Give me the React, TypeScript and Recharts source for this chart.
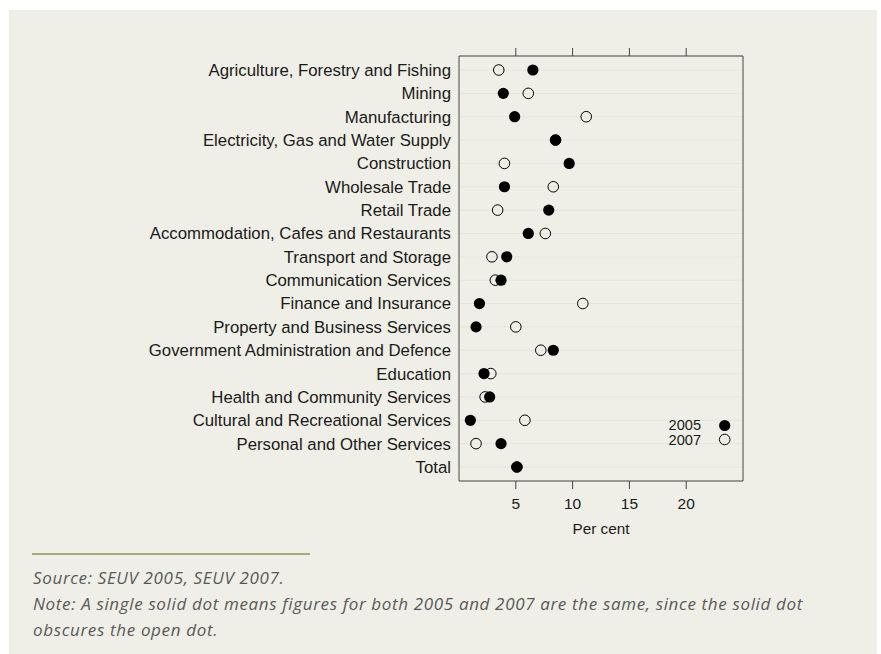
import React from 'react';
import { ScatterChart, Scatter, XAxis, YAxis, CartesianGrid, ReferenceLine } from 'recharts';

// industries, top to bottom
const industries = [
  'Agriculture, Forestry and Fishing',
  'Mining',
  'Manufacturing',
  'Electricity, Gas and Water Supply',
  'Construction',
  'Wholesale Trade',
  'Retail Trade',
  'Accommodation, Cafes and Restaurants',
  'Transport and Storage',
  'Communication Services',
  'Finance and Insurance',
  'Property and Business Services',
  'Government Administration and Defence',
  'Education',
  'Health and Community Services',
  'Cultural and Recreational Services',
  'Personal and Other Services',
  'Total',
];

// per cent
const values2005 = [6.5, 3.9, 4.9, 8.5, 9.7, 4.0, 7.9, 6.1, 4.2, 3.7, 1.8, 1.5, 8.3, 2.2, 2.7, 1.0, 3.7, 5.1];
const values2007 = [3.5, 6.1, 11.2, 8.5, 4.0, 8.3, 3.4, 7.6, 2.9, 3.2, 10.9, 5.0, 7.2, 2.8, 2.3, 5.8, 1.5, 5.1];

const years = ['2005', '2007'];
const xTicks = [5, 10, 15, 20];
const rowTicks = industries.map((_, i) => i + 1);

const BG = '#efefe7';
const INK = '#1a1a1a';
const FRAME = '#444';
const FONT = '"Liberation Sans", Arial, Helvetica, sans-serif';

const toPoints = (vals: number[]) => vals.map((v, i) => ({ row: i + 1, pct: v }));

const SolidDot = (props: any) => <circle cx={props.cx} cy={props.cy} r={5.6} fill="#000" />;
const OpenDot = (props: any) => (
  <circle cx={props.cx} cy={props.cy} r={5.3} fill="none" stroke="#000" strokeWidth={1} />
);
const NoDot = () => <g />;

// legend sits inside the plot box, bottom right
const YearLegend = () => (
  <div
    style={{
      position: 'absolute',
      left: 640,
      top: 408,
      fontFamily: FONT,
      fontSize: 14.6,
      color: INK,
      lineHeight: '14.6px',
    }}
  >
    {years.map((year, i) => (
      <div key={year} style={{ display: 'flex', alignItems: 'center', height: 14.6 }}>
        <span style={{ width: 52, textAlign: 'right' }}>{year}</span>
        <svg width={40} height={15}>
          <circle
            cx={23.7}
            cy={7.5}
            r={i === 0 ? 5.6 : 5.3}
            fill={i === 0 ? '#000' : 'none'}
            stroke="#000"
            strokeWidth={i === 0 ? 0 : 1}
          />
        </svg>
      </div>
    ))}
  </div>
);

export default function App() {
  return (
    <div style={{ position: 'absolute', left: 9, top: 10, width: 868, height: 644, background: BG }}>
      <ScatterChart width={868} height={540} margin={{ top: 38, right: 134, bottom: 0, left: 0 }}>
        <CartesianGrid horizontal vertical={false} stroke="#e6e6de" yAxisId="left" xAxisId="bottom" />
        <XAxis
          xAxisId="bottom"
          type="number"
          dataKey="pct"
          domain={[0, 25]}
          ticks={xTicks}
          orientation="bottom"
          height={69}
          tickSize={8}
          tickMargin={9}
          stroke={FRAME}
          tick={{ fill: INK, fontSize: 15.5, fontFamily: FONT }}
          label={{ value: 'Per cent', position: 'insideBottom', offset: 16, fill: INK, fontSize: 15.3, fontFamily: FONT }}
        />
        <XAxis
          xAxisId="top"
          type="number"
          dataKey="pct"
          domain={[0, 25]}
          ticks={xTicks}
          orientation="top"
          height={8}
          tickSize={8}
          stroke={FRAME}
          tickFormatter={() => ''}
        />
        <YAxis
          yAxisId="left"
          type="number"
          dataKey="row"
          domain={[0.4, 18.6]}
          reversed
          ticks={rowTicks}
          interval={0}
          width={450}
          tickSize={0}
          tickMargin={8}
          stroke={FRAME}
          tickFormatter={(v: number) => industries[v - 1] ?? ''}
          tick={{ fill: INK, fontSize: 16.8, fontFamily: FONT }}
        />
        <ReferenceLine x={25} xAxisId="bottom" yAxisId="left" stroke={FRAME} />
        {/* invisible copy so the top axis gets its ticks */}
        <Scatter
          data={toPoints(values2005)}
          xAxisId="top"
          yAxisId="left"
          shape={<NoDot />}
          legendType="none"
          isAnimationActive={false}
        />
        <Scatter
          name="2007"
          data={toPoints(values2007)}
          xAxisId="bottom"
          yAxisId="left"
          shape={<OpenDot />}
          isAnimationActive={false}
        />
        <Scatter
          name="2005"
          data={toPoints(values2005)}
          xAxisId="bottom"
          yAxisId="left"
          shape={<SolidDot />}
          isAnimationActive={false}
        />
      </ScatterChart>

      <YearLegend />

      <div style={{ position: 'absolute', left: 23, top: 543, width: 278, height: 2, background: '#a3ad78' }} />
      <div
        style={{
          position: 'absolute',
          left: 24,
          top: 555,
          width: 840,
          fontFamily: '"Open Sans", sans-serif',
          fontStyle: 'italic',
          fontSize: 17,
          letterSpacing: 0.65,
          lineHeight: '26px',
          color: '#595959',
        }}
      >
        <div>Source: SEUV 2005, SEUV 2007.</div>
        <div>
          Note: A single solid dot means figures for both 2005 and 2007 are the same, since the solid dot
          <br />
          obscures the open dot.
        </div>
      </div>
    </div>
  );
}
